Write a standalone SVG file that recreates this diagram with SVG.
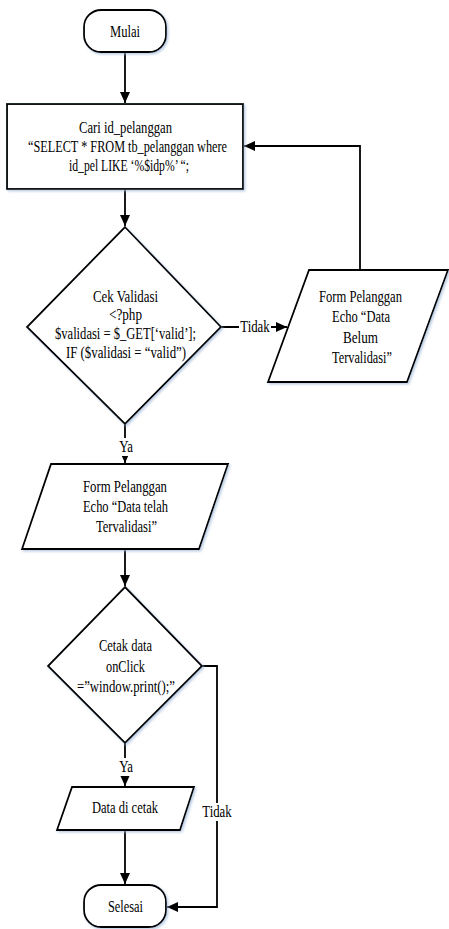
<svg xmlns="http://www.w3.org/2000/svg" width="449" height="929" viewBox="0 0 449 929">
<defs>
<marker id="arr" markerUnits="userSpaceOnUse" markerWidth="12" markerHeight="10" viewBox="0 0 12 10" refX="11" refY="5" orient="auto">
<path d="M0,0 L11,5 L0,10 Z" fill="#000"/>
</marker>
<filter id="sh" x="-10%" y="-10%" width="130%" height="130%">
<feDropShadow dx="1.5" dy="1.5" stdDeviation="0.8" flood-color="#9fb8d8" flood-opacity="0.7"/>
</filter>
</defs>
<style>
.s{fill:#fff;stroke:#000;stroke-width:1.8;filter:url(#sh)}
.c{fill:none;stroke:#000;stroke-width:1.8}
.t{font-family:"Times New Roman","Liberation Serif",serif;font-size:16px;fill:#000;text-anchor:middle}
.lb{fill:#fff}
</style>
<rect width="449" height="929" fill="#fff"/>
<g id="connectors">
<path class="c" d="M125,52 V103" marker-end="url(#arr)"/>
<path class="c" d="M125,189 V226" marker-end="url(#arr)"/>
<path class="c" d="M221,327 H287" marker-end="url(#arr)"/>
<path class="c" d="M360,270 V146 H244" marker-end="url(#arr)"/>
<path class="c" d="M125,424 V463" marker-end="url(#arr)"/>
<path class="c" d="M125,549 V586" marker-end="url(#arr)"/>
<path class="c" d="M125,743 V786" marker-end="url(#arr)"/>
<path class="c" d="M125,830 V884" marker-end="url(#arr)"/>
<path class="c" d="M202,666 H217 V907 H167" marker-end="url(#arr)"/>
<rect class="lb" x="239" y="318" width="32" height="18"/>
<text class="t" x="255" y="332" transform="translate(255 0) scale(0.8 1) translate(-255 0)">Tidak</text>
<rect class="lb" x="116" y="438" width="18" height="18"/>
<text class="t" x="126" y="452" transform="translate(126 0) scale(0.8 1) translate(-126 0)">Ya</text>
<rect class="lb" x="116" y="758" width="18" height="18"/>
<text class="t" x="126" y="772" transform="translate(126 0) scale(0.8 1) translate(-126 0)">Ya</text>
<rect class="lb" x="201" y="803" width="32" height="18"/>
<text class="t" x="217" y="817" transform="translate(217 0) scale(0.8 1) translate(-217 0)">Tidak</text>
</g>
<g id="mulai">
<rect class="s" x="84" y="10" width="82" height="42" rx="17" ry="17"/>
<text class="t" x="125" y="37" textLength="30" lengthAdjust="spacingAndGlyphs">Mulai</text>
</g>
<g id="cari">
<rect class="s" x="7" y="104" width="236" height="85"/>
<text class="t" x="125.5" y="133" textLength="93" lengthAdjust="spacingAndGlyphs">Cari id_pelanggan</text>
<text class="t" x="127.5" y="152" textLength="199" lengthAdjust="spacingAndGlyphs">“SELECT * FROM tb_pelanggan where</text>
<text class="t" x="129" y="171" textLength="120" lengthAdjust="spacingAndGlyphs">id_pel LIKE ‘%$idp%’ “;</text>
</g>
<g id="cek">
<polygon class="s" points="125,227 221,327 125,424 27,327"/>
<text class="t" x="125.5" y="302" textLength="65" lengthAdjust="spacingAndGlyphs">Cek Validasi</text>
<text class="t" x="125.5" y="320" textLength="33" lengthAdjust="spacingAndGlyphs">&lt;?php</text>
<text class="t" x="125.5" y="339" textLength="141" lengthAdjust="spacingAndGlyphs">$validasi = $_GET[‘valid’];</text>
<text class="t" x="126" y="358" textLength="120" lengthAdjust="spacingAndGlyphs">IF ($validasi = “valid”)</text>
</g>
<g id="belum">
<polygon class="s" points="309,270 448,270 407,382 268,382"/>
<text class="t" x="360.5" y="302" textLength="83" lengthAdjust="spacingAndGlyphs">Form Pelanggan</text>
<text class="t" x="361" y="322" textLength="58" lengthAdjust="spacingAndGlyphs">Echo “Data</text>
<text class="t" x="360.5" y="343" textLength="35" lengthAdjust="spacingAndGlyphs">Belum</text>
<text class="t" x="362" y="363" textLength="60" lengthAdjust="spacingAndGlyphs">Tervalidasi”</text>
</g>
<g id="telah">
<polygon class="s" points="51,464 228,464 199,549 22,549"/>
<text class="t" x="125" y="492" textLength="84" lengthAdjust="spacingAndGlyphs">Form Pelanggan</text>
<text class="t" x="125.5" y="512" textLength="85" lengthAdjust="spacingAndGlyphs">Echo “Data telah</text>
<text class="t" x="126.5" y="532" textLength="61" lengthAdjust="spacingAndGlyphs">Tervalidasi”</text>
</g>
<g id="cetak">
<polygon class="s" points="125,587 202,666 125,743 48,666"/>
<text class="t" x="125.5" y="651" textLength="53" lengthAdjust="spacingAndGlyphs">Cetak data</text>
<text class="t" x="125.5" y="672" textLength="39" lengthAdjust="spacingAndGlyphs">onClick</text>
<text class="t" x="126" y="692" textLength="98" lengthAdjust="spacingAndGlyphs">=”window.print();”</text>
</g>
<g id="dicetak">
<polygon class="s" points="72,787 194,787 180,830 57,830"/>
<text class="t" x="125" y="813" textLength="66" lengthAdjust="spacingAndGlyphs">Data di cetak</text>
</g>
<g id="selesai">
<rect class="s" x="84" y="885" width="82" height="42" rx="17" ry="17"/>
<text class="t" x="125.5" y="912" textLength="35" lengthAdjust="spacingAndGlyphs">Selesai</text>
</g>
</svg>
